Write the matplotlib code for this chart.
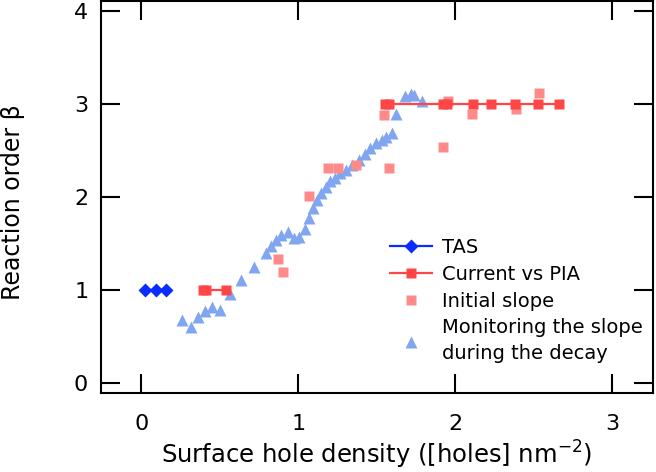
import matplotlib
matplotlib.use("Agg")
import matplotlib.pyplot as plt
import numpy as np

plt.rcParams['font.family'] = ['DejaVu Sans']

# TAS
tas_x = [0.025, 0.09, 0.155]
tas_y = [1.0, 1.0, 1.0]

# Current vs PIA (two connected segments)
pia_x1 = [0.39, 0.41, 0.54]
pia_y1 = [1.0, 1.0, 1.0]
pia_x2 = [1.55, 1.58, 1.92, 1.95, 2.11, 2.23, 2.38, 2.53, 2.66]
pia_y2 = [3.0, 3.0, 3.0, 3.0, 3.0, 3.0, 3.0, 3.0, 3.0]

# Initial slope
init_x = [0.87, 0.90, 1.07, 1.19, 1.25, 1.37, 1.545, 1.575, 1.92, 1.955, 2.105, 2.385, 2.535]
init_y = [1.34, 1.20, 2.01, 2.32, 2.32, 2.35, 2.88, 2.32, 2.54, 3.03, 2.90, 2.95, 3.12]

# Monitoring the slope during the decay
mon_x = [0.258, 0.317, 0.363, 0.405, 0.452, 0.502, 0.566, 0.634, 0.72, 0.792, 0.824,
         0.857, 0.89, 0.935, 0.975, 1.005, 1.045, 1.07, 1.09, 1.118, 1.147, 1.176,
         1.204, 1.231, 1.267, 1.305, 1.344, 1.385, 1.425, 1.457, 1.493, 1.532,
         1.561, 1.595, 1.622, 1.68, 1.715, 1.74, 1.785]
mon_y = [0.68, 0.61, 0.71, 0.78, 0.82, 0.79, 0.965, 1.11, 1.25, 1.405, 1.477,
         1.54, 1.595, 1.625, 1.56, 1.57, 1.66, 1.78, 1.88, 1.97, 2.05, 2.115,
         2.17, 2.204, 2.258, 2.294, 2.35, 2.40, 2.466, 2.527, 2.58, 2.616,
         2.645, 2.69, 2.89, 3.085, 3.11, 3.10, 3.03]

x_ticks = [0, 1, 2, 3]
y_ticks = [0, 1, 2, 3, 4]

fig = plt.figure(figsize=(6.56, 4.72), dpi=100)
ax = fig.add_axes([0.1535, 0.168, 0.8419, 0.830])

c_tas = '#0a2cff'
c_pia = '#ff4646'
c_init = '#ff8a8a'
c_mon = '#80a6f2'

ax.plot(mon_x, mon_y, linestyle='none', marker='^', ms=8.5, color=c_mon, mec='none',
        label='Monitoring the slope\nduring the decay', zorder=2)
ax.plot(init_x, init_y, linestyle='none', marker='s', ms=7.8, color=c_init, mec='none',
        label='Initial slope', zorder=3)
px = pia_x1 + [np.nan] + pia_x2
py = pia_y1 + [np.nan] + pia_y2
ax.plot(px, py, '-', marker='s', ms=7.8, color=c_pia, lw=1.6, mec='none',
        label='Current vs PIA', zorder=4)
ax.plot(tas_x, tas_y, '-', marker='D', ms=7, color=c_tas, lw=1.6, mec='none',
        label='TAS', zorder=5)

ax.set_xlim(-0.26, 3.26)
ax.set_ylim(-0.1, 4.11)
ax.set_xticks(x_ticks)
ax.set_yticks(y_ticks)
ax.tick_params(direction='in', length=13.5, width=1.5, top=True, right=True,
               labelsize=16)
ax.tick_params(axis='x', pad=15.5)
ax.tick_params(axis='y', pad=9)
for s in ax.spines.values():
    s.set_linewidth(1.5)

ax.set_xlabel('Surface hole density ([holes] nm$^{-2}$)', fontsize=17.5, labelpad=3.5)
ax.set_ylabel('Reaction order β', fontsize=17)
ax.yaxis.set_label_coords(-0.137, 0.4856)

h, l = ax.get_legend_handles_labels()
order = [3, 2, 1, 0]
leg = ax.legend([h[i] for i in order], [l[i] for i in order], loc='upper left',
                bbox_to_anchor=(0.524, 0.3946), frameon=False, fontsize=14,
                handlelength=2.15, handletextpad=0.5, labelspacing=0.4, borderpad=0,
                borderaxespad=0)
leg.get_texts()[3].set_linespacing(1.45)

fig.savefig('out.png', dpi=100)
